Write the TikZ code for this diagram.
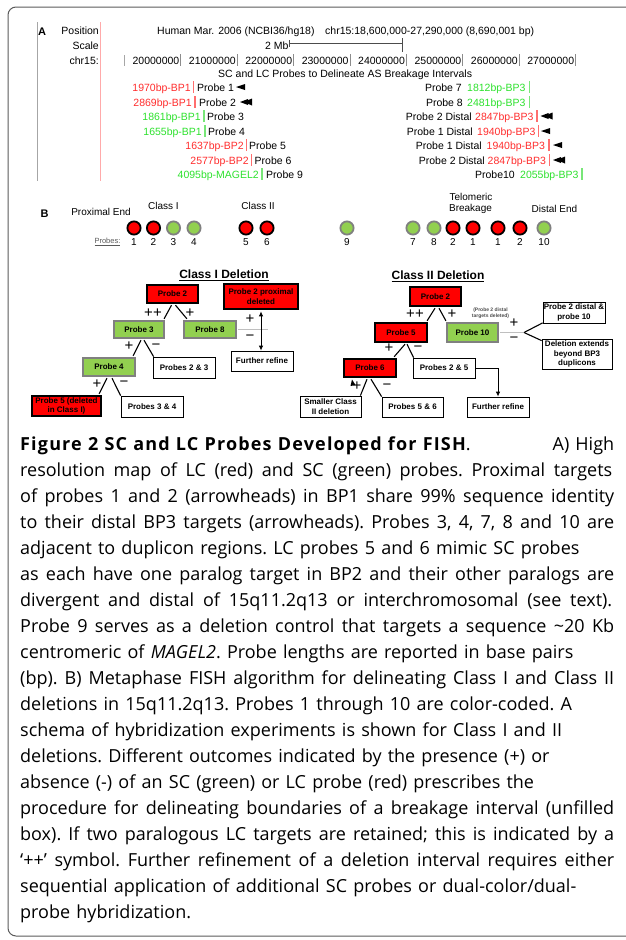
\documentclass[tikz,border=0pt]{standalone}
\usepackage{fontspec}
\setmainfont{Liberation Sans}
\newfontfamily\capfont{Open Sans}
\newfontfamily\capboldfont{Open Sans}[LetterSpace=6.5]
\usetikzlibrary{calc,arrows.meta}
\definecolor{lcred}{RGB}{255,45,45}
\definecolor{scgreen}{RGB}{45,225,45}
\definecolor{lcline}{RGB}{255,110,110}
\definecolor{scline}{RGB}{120,230,120}
\definecolor{boxred}{RGB}{255,0,0}
\definecolor{boxgreen}{RGB}{146,208,80}
\definecolor{boxgray}{RGB}{128,128,128}
\definecolor{framegray}{RGB}{90,90,90}
\definecolor{pinkline}{RGB}{255,170,170}
\newcommand\arwsingle[2]{\fill (#1,#2) -- ++(9,-3) -- ++(0,6) -- cycle;}
\newcommand\arwdouble[2]{\fill (#1,#2) -- ++(8,-3) -- ++(0,6) -- cycle; \fill (#1+4,#2) -- ++(8,-3.5) -- ++(0,7) -- cycle;}
\newcommand\jline[1]{\makebox[594pt][s]{#1}}
\newcommand\capsetup{\capfont\fontsize{18}{26}\selectfont\frenchspacing\spaceskip 6.2pt plus 3pt minus 2pt\relax}
\begin{document}
\begin{tikzpicture}[x=1pt,y=-1pt,
  every node/.style={inner sep=0pt},
  maptxt/.style={font=\fontsize{10.5}{12}\selectfont},
  redtxt/.style={maptxt, text=lcred},
  greentxt/.style={maptxt, text=scgreen},
  btxt/.style={font=\fontsize{10}{12}\selectfont},
  boxtxt/.style={font=\bfseries\fontsize{8}{9.5}\selectfont, align=center},
  redbox/.style={boxtxt, draw=black, fill=boxred, line width=2.2pt},
  greenbox/.style={boxtxt, draw=boxgray, fill=boxgreen, line width=2.2pt},
  whitebox/.style={boxtxt, draw=black, fill=white, line width=0.8pt},
  circred/.style={circle, draw=black, fill=boxred, line width=1.8pt, minimum size=13.2pt},
  circgreen/.style={circle, draw=boxgray, fill=boxgreen, line width=1.8pt, minimum size=13.2pt},
  sign/.style={font=\fontsize{15}{15}\selectfont},
  conn/.style={draw=black, line width=1.1pt},
  grayline/.style={draw=black!25, line width=1.3pt},
  captxt/.style={anchor=base west, font=\capsetup}
]
\useasboundingbox (0,0) rectangle (625,940);
% outer frame
\draw[framegray, line width=1pt, rounded corners=8] (640,7) -- (8,7) -- (8,936) -- (640,936);
% browser image borders
\draw[black!35, line width=0.8pt] (37,22) -- (37,181);
\draw[pinkline, line width=0.8pt] (100,22) -- (100,181);

% ---------------- Panel A ----------------
\node[anchor=base west, font=\bfseries\fontsize{11}{12}\selectfont] (labA) at (38,35) {A};
\node[maptxt, anchor=base east] (pos) at (99,34) {Position};
\node[maptxt, anchor=base west] (human) at (157,34) {Human Mar. 2006 (NCBI36/hg18)};
\node[maptxt, anchor=base west] (range) at (325,34) {chr15:18,600,000-27,290,000 (8,690,001 bp)};
\node[maptxt, anchor=base east] (scale) at (99,49) {Scale};
\node[maptxt, anchor=base west] (mb) at (265,49) {2 Mb};
\draw[black!70, line width=0.7pt] (289,43) -- (402,43);
\draw[black!70, line width=0.7pt] (289,40) -- (289,47);
\draw[black!70, line width=0.7pt] (402,38) -- (402,52);
\node[maptxt, anchor=base east] (chr) at (99,64) {chr15:};
\draw[black!35, line width=0.8pt] (124,55) -- (124,66);
\foreach \i/\lab in {0/20000000,1/21000000,2/22000000,3/23000000,4/24000000,5/25000000,6/26000000,7/27000000}{
  \draw[black!45, line width=0.8pt] (180.8+56.4*\i,54) -- (180.8+56.4*\i,66);
  \node[maptxt, anchor=base east] (num\i) at (179.5+56.4*\i,64) {\lab};
}
\node[maptxt, anchor=base west] (title) at (218,77) {SC and LC Probes to Delineate AS Breakage Intervals};

% left rows
\node[redtxt, anchor=base east] (l1) at (191,91) {1970bp-BP1};
\draw[lcline, line width=1.2pt] (193.5,81) -- (193.5,93);
\node[maptxt, anchor=base west] (pl1) at (197,91) {Probe 1};
\arwsingle{236}{87}

\node[redtxt, anchor=base east] (l2) at (192,106) {2869bp-BP1};
\draw[lcline, line width=1.2pt] (195,96) -- (195,108);
\node[maptxt, anchor=base west] (pl2) at (199,106) {Probe 2};
\arwdouble{240}{102}

\node[greentxt, anchor=base east] (l3) at (201,120) {1861bp-BP1};
\draw[scline, line width=1.2pt] (204,110) -- (204,122);
\node[maptxt, anchor=base west] (pl3) at (207,120) {Probe 3};

\node[greentxt, anchor=base east] (l4) at (202,135) {1655bp-BP1};
\draw[scline, line width=1.2pt] (205,125) -- (205,137);
\node[maptxt, anchor=base west] (pl4) at (208,135) {Probe 4};

\node[redtxt, anchor=base east] (l5) at (244,149) {1637bp-BP2};
\draw[lcline, line width=1.2pt] (246.5,139) -- (246.5,151);
\node[maptxt, anchor=base west] (pl5) at (249,149) {Probe 5};

\node[redtxt, anchor=base east] (l6) at (249,164) {2577bp-BP2};
\draw[lcline, line width=1.2pt] (251.5,154) -- (251.5,166);
\node[maptxt, anchor=base west] (pl6) at (254.5,164) {Probe 6};

\node[greentxt, anchor=base east] (l7) at (259,178) {4095bp-MAGEL2};
\draw[scline, line width=1.2pt] (262,168) -- (262,180);
\node[maptxt, anchor=base west] (pl7) at (266,178) {Probe 9};

% right rows
\node[maptxt, anchor=base east] (pr1) at (462,91) {Probe 7};
\node[greentxt, anchor=base west] (r1) at (467,91) {1812bp-BP3};
\draw[scline, line width=1.2pt] (529.5,81) -- (529.5,93);

\node[maptxt, anchor=base east] (pr2) at (463,106) {Probe 8};
\node[greentxt, anchor=base west] (r2) at (467,106) {2481bp-BP3};
\draw[scline, line width=1.2pt] (529.5,96) -- (529.5,108);

\node[maptxt, anchor=base east] (pr3) at (472,120) {Probe 2 Distal};
\node[redtxt, anchor=base west] (r3) at (475,120) {2847bp-BP3};
\draw[lcline, line width=1.2pt] (537,110) -- (537,122);
\arwdouble{540.5}{116}

\node[maptxt, anchor=base east] (pr4) at (473,135) {Probe 1 Distal};
\node[redtxt, anchor=base west] (r4) at (477,135) {1940bp-BP3};
\draw[lcline, line width=1.2pt] (538.5,125) -- (538.5,137);
\arwsingle{541}{131}

\node[maptxt, anchor=base east] (pr5) at (482,149) {Probe 1 Distal};
\node[redtxt, anchor=base west] (r5) at (486.5,149) {1940bp-BP3};
\draw[lcline, line width=1.2pt] (549,139) -- (549,151);
\arwsingle{553}{145}

\node[maptxt, anchor=base east] (pr6) at (485,164) {Probe 2 Distal};
\node[redtxt, anchor=base west] (r6) at (487.5,164) {2847bp-BP3};
\draw[lcline, line width=1.2pt] (549.5,154) -- (549.5,166);
\arwdouble{553}{160}

\node[maptxt, anchor=base east] (pr7) at (515,178) {Probe10};
\node[greentxt, anchor=base west] (r7) at (520,178) {2055bp-BP3};
\draw[scline, line width=1.2pt] (582,168) -- (582,180);

% ---------------- Panel B ----------------
\node[anchor=center, font=\bfseries\fontsize{11}{12}\selectfont] (labB) at (44.5,214) {B};
\node[btxt] (prox) at (101,212) {Proximal End};
\node[btxt] (cls1) at (163.5,206) {Class I};
\node[btxt] (cls2) at (258,206) {Class II};
\node[btxt] (telo) at (471,197) {Telomeric};
\node[btxt] (brk) at (470.5,209) {Breakage};
\node[btxt] (dist) at (554.5,209) {Distal End};
\node[font=\fontsize{7.5}{9}\selectfont, text=black!65] (probes) at (107.5,242) {\underline{Probes:}};
\foreach \n/\x/\s/\lab in {c1/134/circred/1, c2/153.5/circred/2, c3/173.5/circgreen/3, c4/194/circgreen/4,
  c5/246/circred/5, c6/267/circred/6, c9/347/circgreen/9, c7/413/circgreen/7, c8/434/circgreen/8,
  c2b/453/circred/2, c1b/473/circred/1, c1c/498/circred/1, c2c/520/circred/2, c10/544/circgreen/10}{
  \node[\s] (\n) at (\x,228) {};
  \node[btxt] (\n lab) at (\x,242.5) {\lab};
}

% ---------------- Class I Deletion ----------------
\node[font=\bfseries\fontsize{12}{14}\selectfont] (c1title) at (224,275) {\underline{Class I Deletion}};
\node[redbox, minimum width=51pt, minimum height=18pt] (c1p2) at (172.5,294) {Probe 2};
\node[redbox, minimum width=74pt, minimum height=25pt] (c1prox) at (261,296.5) {Probe 2 proximal\\deleted};
\node[greenbox, minimum width=50pt, minimum height=17pt] (c1p3) at (139,329.5) {Probe 3};
\node[greenbox, minimum width=52pt, minimum height=17pt] (c1p8) at (210,329.5) {Probe 8};
\node[greenbox, minimum width=52pt, minimum height=18pt] (c1p4) at (109,367) {Probe 4};
\node[whitebox, minimum width=62pt, minimum height=21pt] (c1p23) at (184,367.5) {Probes 2 \& 3};
\node[whitebox, minimum width=62pt, minimum height=20pt] (c1fr) at (262,361) {Further refine};
\node[redbox, minimum width=69pt, minimum height=20pt] (c1p5) at (66.5,406) {Probe 5 (deleted\\in Class I)};
\node[whitebox, minimum width=62pt, minimum height=21pt] (c1p34) at (152,406.5) {Probes 3 \& 4};

\draw[conn] ($(c1p2.south)+(-1,1.1)$) -- ($(c1p3.north east)+(-1,-1.1)$);
\draw[conn] ($(c1p2.south)+(3,1.1)$) -- ($(c1p8.north west)+(4,-1.1)$);
\draw[conn] ($(c1p3.south)+(2,1.1)$) -- ($(c1p4.north east)+(-3,-1.1)$);
\draw[conn] ($(c1p3.south)+(5,1.1)$) -- ($(c1p23.north west)+(1,0)$);
\draw[conn] ($(c1p4.south)+(-2,1.1)$) -- ($(c1p5.north east)+(-3,-1.1)$);
\draw[conn] ($(c1p4.south)+(3,1.1)$) -- ($(c1p34.north west)+(0,0)$);
\coordinate (c1gend) at (268,329.5);
\draw[grayline] ($(c1p8.east)+(1.1,0)$) -- (c1gend);
\draw[conn, line width=0.9pt, {Latex[length=5pt,width=4.5pt]}-{Latex[length=5pt,width=4.5pt]}] ($(c1prox.south)+(0,1.2)$) -- ($(c1fr.north)+(-1,0)$);

\node[sign] (s1) at (153,313) {++};
\node[sign] (s2) at (190,313) {+};
\node[sign] (s3) at (129,346) {+};
\node[sign] (s4) at (156,347) {−};
\node[sign] (s5) at (97,384) {+};
\node[sign] (s6) at (124,384) {−};
\node[sign] (s7) at (250,319.5) {+};
\node[sign] (s8) at (250,337.5) {−};

% ---------------- Class II Deletion ----------------
\node[font=\bfseries\fontsize{12}{14}\selectfont] (c2title) at (438,276) {\underline{Class II Deletion}};
\node[redbox, minimum width=51pt, minimum height=19pt] (c2p2) at (435.5,296.5) {Probe 2};
\node[redbox, minimum width=52pt, minimum height=19pt] (c2p5) at (401,332.5) {Probe 5};
\node[greenbox, minimum width=51pt, minimum height=19pt] (c2p10) at (472.5,332.5) {Probe 10};
\node[font=\bfseries\fontsize{5}{6}\selectfont, text=black!70, align=center] (c2note) at (490.5,313) {(Probe 2 distal\\targets deleted)};
\node[redbox, minimum width=52pt, minimum height=18pt] (c2p6) at (370,368) {Probe 6};
\node[whitebox, minimum width=62pt, minimum height=20pt] (c2p25) at (444,368) {Probes 2 \& 5};
\node[whitebox, minimum width=61pt, minimum height=21pt] (c2small) at (330.5,406.5) {Smaller Class\\II deletion};
\node[whitebox, minimum width=61pt, minimum height=20pt] (c2p56) at (412.5,407) {Probes 5 \& 6};
\node[whitebox, minimum width=62pt, minimum height=20pt] (c2fr) at (498,407) {Further refine};
\node[whitebox, minimum width=62pt, minimum height=21pt] (c2p2d10) at (574,312.5) {Probe 2 distal \&\\probe 10};
\node[whitebox, minimum width=70pt, minimum height=30pt] (c2ext) at (577,354) {Deletion extends\\beyond BP3\\duplicons};

\draw[conn] ($(c2p2.south)+(-0.5,1.1)$) -- ($(c2p5.north east)+(-1,-1.1)$);
\draw[conn] ($(c2p2.south)+(3.5,1.1)$) -- ($(c2p10.north west)+(0,-1.1)$);
\draw[conn] ($(c2p5.south)+(4,1.1)$) -- ($(c2p6.north east)+(-3,-1.1)$);
\draw[conn] ($(c2p5.south)+(6,1.1)$) -- ($(c2p25.north west)+(1,0)$);
\draw[conn] ($(c2p6.south)+(-3,1.1)$) -- ($(c2small.north east)+(-1,0)$);
\draw[conn] ($(c2p6.south)+(1,1.1)$) -- ($(c2p56.north west)+(0,0)$);
\draw[conn, line width=0.9pt, -{Latex[length=5pt,width=4.5pt]}] (c2p25.east) -| (c2fr.north);
\coordinate (c2g) at (524,332.5);
\draw[grayline] ($(c2p10.east)+(1.1,0)$) -- (c2g);
\draw[conn] (c2g) -- ($(c2p2d10.south west)+(0,-0.5)$);
\draw[conn] (c2g) -- ($(c2ext.north west)+(0,2)$);
\fill (350.5,386) -- (355.5,385) -- (352,379.5) -- cycle;

\node[sign] (t1) at (415,314) {++};
\node[sign] (t2) at (452,314) {+};
\node[sign] (t3) at (389,348) {+};
\node[sign] (t4) at (418,349) {−};
\node[sign] (t5) at (357,386) {+};
\node[sign] (t6) at (387,387) {−};
\node[sign] (t7) at (514,323.5) {+};
\node[sign] (t8) at (514,339.5) {−};

% ---------------- Caption ----------------
\node[captxt] (cap1) at (20,450) {\jline{\mbox{\capboldfont\bfseries Figure 2 SC and LC Probes Developed for FISH}.\hfill A)\hspace{6pt}High}};
\node[captxt] (cap2) at (20,476) {\makebox[592pt][s]{resolution map of LC (red) and SC (green) probes. Proximal targets}};
\node[captxt] (cap3) at (20,502) {\jline{of probes 1 and 2 (arrowheads) in BP1 share 99\% sequence identity}};
\node[captxt] (cap4) at (20,528) {\jline{to their distal BP3 targets (arrowheads). Probes 3, 4, 7, 8 and 10 are}};
\node[captxt] (cap5) at (20,554) {adjacent to duplicon regions. LC probes 5 and 6 mimic SC probes};
\node[captxt] (cap6) at (20,580) {\jline{as each have one paralog target in BP2 and their other paralogs are}};
\node[captxt] (cap7) at (20,606) {\makebox[592pt][s]{divergent and distal of 15q11.2q13 or interchromosomal (see text).}};
\node[captxt] (cap8) at (20,632) {\jline{Probe 9 serves as a deletion control that targets a sequence \textasciitilde20 Kb}};
\node[captxt] (cap9) at (20,658) {centromeric of \textit{MAGEL2}. Probe lengths are reported in base pairs};
\node[captxt] (cap10) at (20,684) {\jline{(bp). B) Metaphase FISH algorithm for delineating Class I and Class II}};
\node[captxt] (cap11) at (20,710) {deletions in 15q11.2q13. Probes 1 through 10 are color-coded. A};
\node[captxt] (cap12) at (20,736) {schema of hybridization experiments is shown for Class I and II};
\node[captxt] (cap13) at (20,762) {deletions. Different outcomes indicated by the presence (+) or};
\node[captxt] (cap14) at (20,788) {absence (-) of an SC (green) or LC probe (red) prescribes the};
\node[captxt] (cap15) at (20,814) {\jline{procedure for delineating boundaries of a breakage interval (unfilled}};
\node[captxt] (cap16) at (20,840) {\jline{box). If two paralogous LC targets are retained; this is indicated by a}};
\node[captxt] (cap17) at (20,866) {\jline{‘++’ symbol. Further refinement of a deletion interval requires either}};
\node[captxt] (cap18) at (20,892) {sequential application of additional SC probes or dual-color/dual-};
\node[captxt] (cap19) at (20,918) {probe hybridization.};
\end{tikzpicture}
\end{document}
